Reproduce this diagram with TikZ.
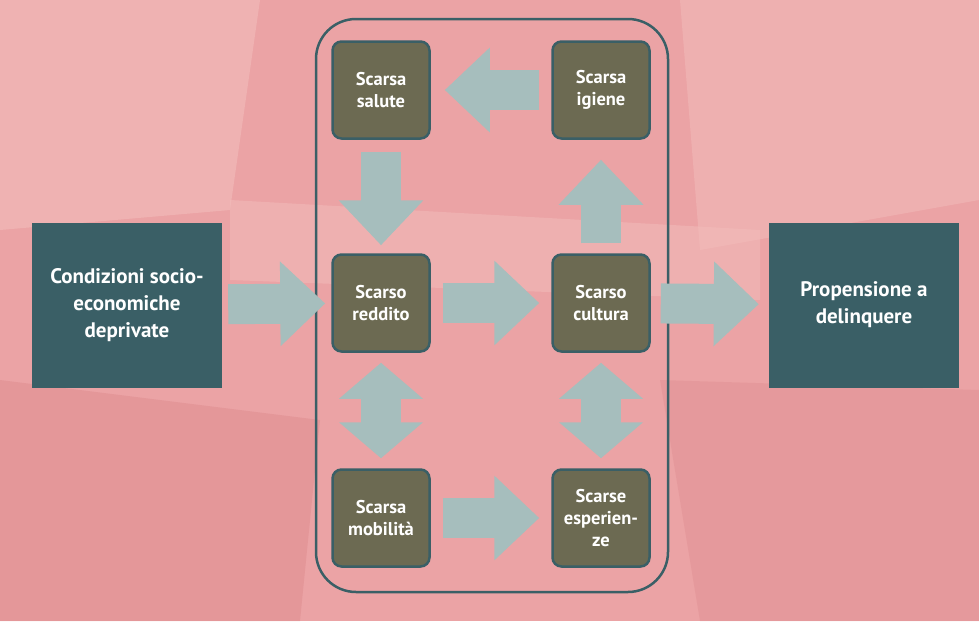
\documentclass[tikz,border=0pt]{standalone}
\usepackage{fontspec}
\setmainfont{PT Sans}
\usetikzlibrary{arrows.meta}
\definecolor{bg}{HTML}{EBA3A5}
\definecolor{bgl}{HTML}{F2BDBB}
\definecolor{bgd}{HTML}{DE8C8F}
\definecolor{teal}{HTML}{3A5F66}
\definecolor{olive}{HTML}{6C6A52}
\definecolor{arr}{HTML}{A6BEBD}
\tikzset{
 big/.style={fill=teal,minimum width=190pt,minimum height=165pt,align=center,text=white,font=\bfseries\fontsize{21}{27}\selectfont,inner sep=0pt},
 small/.style={fill=olive,draw=teal,line width=2.5pt,rounded corners=9pt,minimum width=97pt,minimum height=97pt,align=center,text=white,font=\bfseries\fontsize{18.5}{22}\selectfont,inner sep=0pt},
 ba/.style={draw=arr,line width=40pt,-{Triangle[length=45pt,width=82pt]}},
 bb/.style={draw=arr,line width=40pt,{Triangle[length=36pt,width=82pt]}-{Triangle[length=36pt,width=82pt]}},
}
\begin{document}
\begin{tikzpicture}[x=1pt,y=-1pt]
\useasboundingbox (0,0) rectangle (979,621);
\fill[bg] (0,0) rectangle (979,621);
\fill[bgl,opacity=.6] (0,0) -- (260,0) -- (230,210) -- (0,230) -- cycle;
\fill[bgl,opacity=.5] (680,0) -- (979,0) -- (979,200) -- (700,250) -- cycle;
\fill[bgd,opacity=.5] (0,380) -- (320,420) -- (300,621) -- (0,621) -- cycle;
\fill[bgd,opacity=.4] (660,380) -- (979,390) -- (979,621) -- (700,621) -- cycle;
\fill[bgl,opacity=.5] (230,200) -- (760,230) -- (760,300) -- (230,280) -- cycle;
\draw[teal,line width=2.5pt,rounded corners=40pt] (316,19) rectangle (668,592);
\node[big] (L) at (127,305) {Condizioni socio-\\economiche\\deprivate};
\node[big] (R) at (864,305) {Propensione a\\delinquere};
\node[small] (sa) at (381,90) {Scarsa\\salute};
\node[small] (ig) at (601,90) {Scarsa\\igiene};
\node[small] (re) at (381,303) {Scarso\\reddito};
\node[small] (cu) at (601,303) {Scarso\\cultura};
\node[small] (mo) at (381,518) {Scarsa\\mobilità};
\node[small] (es) at (601,518) {Scarse\\esperien-\\ze};
\draw[ba,shorten <=6pt,shorten >=6pt] (L) -- (re);
\draw[ba,shorten <=12pt,shorten >=12pt] (re) -- (cu);
\draw[ba,shorten <=10pt,shorten >=10pt] (cu) -- (R);
\draw[ba,shorten <=12pt,shorten >=14pt] (ig) -- (sa);
\draw[ba,shorten <=12pt,shorten >=8pt] (sa) -- (re);
\draw[ba,shorten <=10pt,shorten >=20pt] (cu) -- (ig);
\draw[bb,shorten <=10pt,shorten >=10pt] (re) -- (mo);
\draw[bb,shorten <=10pt,shorten >=10pt] (cu) -- (es);
\draw[ba,shorten <=12pt,shorten >=12pt] (mo) -- (es);
\end{tikzpicture}
\end{document}
